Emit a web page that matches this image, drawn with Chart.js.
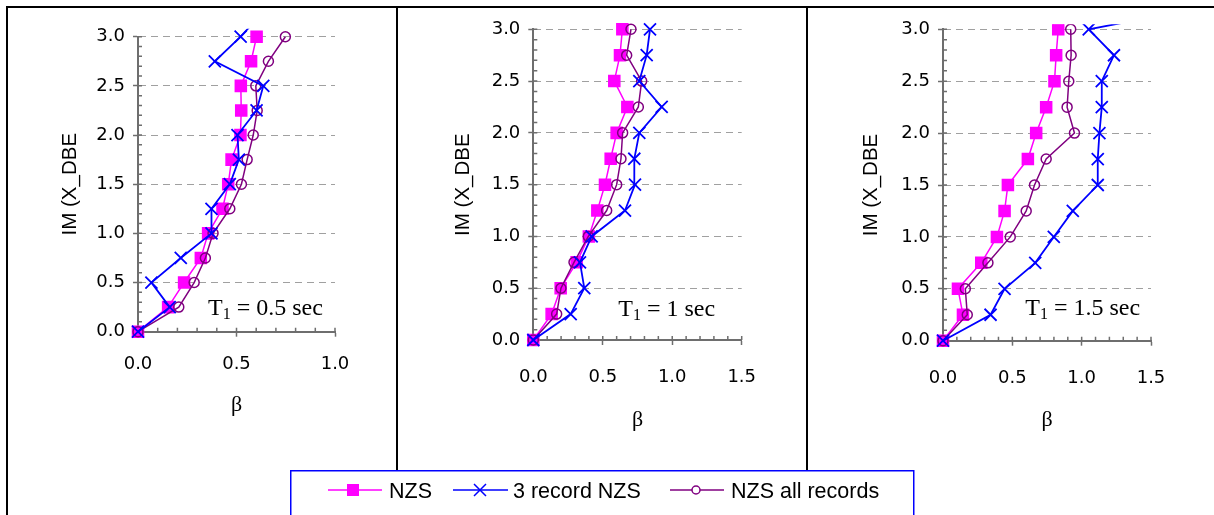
<!DOCTYPE html>
<html lang="en">
<head>
  <meta charset="UTF-8" />
  <title>IM vs beta - NZS records</title>
  <script src="https://cdn.jsdelivr.net/npm/chart.js"></script>
  <style>
    body {
      margin: 0;
      background: #fff;
      width: 1214px;
      height: 515px;
      overflow: hidden;
      position: relative;
    }
    .rule { position: absolute; background: #000; }
    canvas { position: absolute; }
    #legend { position: absolute; left: 0; top: 0; pointer-events: none; }
  </style>
</head>
<body>

<!-- frame -->
<div class="rule" style="left:6px;top:6px;width:1208px;height:2px"></div>
<div class="rule" style="left:6px;top:6px;width:2px;height:509px"></div>
<div class="rule" style="left:396px;top:6px;width:2px;height:464px"></div>
<div class="rule" style="left:806px;top:6px;width:2px;height:464px"></div>

<canvas id="p1" width="385" height="431" style="left:10px;top:9px"></canvas>
<canvas id="p2" width="388" height="431" style="left:410px;top:9px"></canvas>
<canvas id="p3" width="390" height="431" style="left:820px;top:9px"></canvas>

<svg id="legend" width="1214" height="515" font-family="'Liberation Sans', Arial, sans-serif" font-size="21.5">
  <rect x="290.75" y="470.75" width="623" height="60" fill="none" stroke="#0000ff" stroke-width="1.5"/>
  <line x1="328" y1="490" x2="382" y2="490" stroke="#ff00ff" stroke-width="1.5"/>
  <rect x="347" y="484" width="12" height="12" fill="#ff00ff"/>
  <text x="389" y="498.3" id="lg0"></text>
  <line x1="453" y1="490" x2="508" y2="490" stroke="#0000ff" stroke-width="1.5"/>
  <path d="M474 484 L486 496 M474 496 L486 484" stroke="#0000ff" stroke-width="1.5"/>
  <text x="513" y="498.3" id="lg1"></text>
  <line x1="670" y1="490" x2="724" y2="490" stroke="#800080" stroke-width="1.5"/>
  <circle cx="696" cy="490" r="4" fill="#fff" stroke="#800080" stroke-width="1.5"/>
  <text x="731" y="498.3" id="lg2"></text>
</svg>

<script>
  // IM levels (x DBE), shared by every series; the last one only in the 3-record runs
  const imLevels = [0, 0.25, 0.5, 0.75, 1.0, 1.25, 1.5, 1.75, 2.0, 2.25, 2.5, 2.75, 3.0, 3.25];
  const seriesNames = ['NZS', '3 record NZS', 'NZS all records'];
  const periods = ['0.5', '1', '1.5'];
  const yTicks = [0, 0.5, 1.0, 1.5, 2.0, 2.5, 3.0];
  const xTicksShort = [0, 0.5, 1.0];
  const xTicksLong = [0, 0.5, 1.0, 1.5];

  // beta values, T1 = 0.5 sec
  const nzs05 = [0, 0.153, 0.234, 0.319, 0.356, 0.429, 0.458, 0.475, 0.52, 0.524, 0.522, 0.574, 0.602];
  const rec05 = [0, 0.161, 0.068, 0.217, 0.373, 0.373, 0.466, 0.512, 0.505, 0.602, 0.636, 0.39, 0.521, 0.635];
  const all05 = [0, 0.207, 0.285, 0.342, 0.381, 0.466, 0.525, 0.554, 0.585, 0.605, 0.598, 0.662, 0.748];

  // beta values, T1 = 1 sec
  const nzs10 = [0, 0.132, 0.197, 0.312, 0.40, 0.461, 0.516, 0.557, 0.60, 0.677, 0.583, 0.624, 0.641];
  const rec10 = [0, 0.269, 0.367, 0.336, 0.42, 0.66, 0.732, 0.727, 0.763, 0.924, 0.763, 0.816, 0.84];
  const all10 = [0, 0.168, 0.199, 0.293, 0.396, 0.528, 0.60, 0.631, 0.643, 0.756, 0.78, 0.672, 0.703];

  // beta values, T1 = 1.5 sec
  const nzs15 = [0, 0.144, 0.108, 0.276, 0.389, 0.444, 0.468, 0.612, 0.672, 0.744, 0.804, 0.816, 0.831];
  const rec15 = [0, 0.343, 0.444, 0.665, 0.799, 0.936, 1.116, 1.116, 1.128, 1.145, 1.145, 1.233, 1.051, 2.03];
  const all15 = [0, 0.175, 0.161, 0.324, 0.485, 0.60, 0.66, 0.744, 0.948, 0.895, 0.907, 0.924, 0.921];

  const SANS = "'Liberation Sans', Arial, sans-serif";
  const WIDE = "'DejaVu Sans', Verdana, sans-serif";
  const SERIF = "'Liberation Serif', 'Times New Roman', serif";
  const axisColor = '#6e6e6e';

  seriesNames.forEach((n, i) => { document.getElementById('lg' + i).textContent = n; });

  const panels = [
    { id: 'p1', period: periods[0], data: [nzs05, rec05, all05], xTicks: xTicksShort,
      canvas: { left: 10, top: 9, w: 385, h: 431 },
      area: { left: 138, right: 335, top: 36.7, bottom: 331.7 },
      yTitleX: 70, xTitleY: 405, xLabelPad: 16.5, note: { x: 208, y: 315 }, clipTop: 8 },
    { id: 'p2', period: periods[1], data: [nzs10, rec10, all10], xTicks: xTicksLong,
      canvas: { left: 410, top: 9, w: 388, h: 431 },
      area: { left: 533.3, right: 741.7, top: 29.3, bottom: 340 },
      yTitleX: 463.3, xTitleY: 420.7, xLabelPad: 21.5, note: { x: 618.3, y: 316 }, clipTop: 8 },
    { id: 'p3', period: periods[2], data: [nzs15, rec15, all15], xTicks: xTicksLong,
      canvas: { left: 820, top: 9, w: 390, h: 431 },
      area: { left: 943, right: 1151, top: 29.3, bottom: 340.7 },
      yTitleX: 871.3, xTitleY: 420.7, xLabelPad: 21.5, note: { x: 1025.3, y: 315 }, clipTop: 5 }
  ];

  const toPoints = vals => vals.map((b, i) => ({ x: b, y: imLevels[i] }));

  // small inward ticks every 0.1 on both axes
  const minorTicks = {
    id: 'minorTicks',
    beforeDatasetsDraw(chart) {
      const { ctx, scales: { x, y } } = chart;
      ctx.save();
      ctx.strokeStyle = axisColor;
      ctx.lineWidth = 1.5;
      ctx.beginPath();
      for (let i = 0; i <= Math.round(x.max * 10); i++) {
        const px = x.getPixelForValue(i / 10);
        ctx.moveTo(px, y.bottom);
        ctx.lineTo(px, y.bottom - 4);
      }
      for (let i = 0; i <= Math.round(y.max * 10); i++) {
        const py = y.getPixelForValue(i / 10);
        ctx.moveTo(x.left, py);
        ctx.lineTo(x.left + 4, py);
      }
      ctx.stroke();
      ctx.restore();
    }
  };

  // "T1 = ... sec" text box
  const periodNote = {
    id: 'periodNote',
    afterDatasetsDraw(chart, args, opts) {
      const { ctx } = chart;
      let x = opts.x, y = opts.y;
      ctx.save();
      ctx.fillStyle = '#000';
      ctx.textBaseline = 'alphabetic';
      ctx.font = '24px ' + SERIF;
      ctx.fillText('T', x, y);
      x += ctx.measureText('T').width;
      ctx.font = '16px ' + SERIF;
      ctx.fillText('1', x, y + 4);
      x += ctx.measureText('1').width;
      ctx.font = '24px ' + SERIF;
      ctx.fillText(' = ' + opts.period + ' sec', x, y);
      ctx.restore();
    }
  };

  panels.forEach(p => {
    const c = p.canvas, a = p.area;
    const yAxisW = a.left - c.left;
    const xAxisH = c.top + c.h - a.bottom;
    const clip = { left: 10, right: 10, bottom: 10, top: p.clipTop };

    const styles = [
      { color: '#ff00ff', pointStyle: 'rect', radius: 7.8, bg: '#ff00ff', bw: 1.5, order: 3 },
      { color: '#0000ff', pointStyle: 'crossRot', radius: 8.5, bg: '#0000ff', bw: 1.8, order: 1 },
      { color: '#800080', pointStyle: 'circle', radius: 5, bg: 'rgba(0,0,0,0)', bw: 1.5, order: 2 }
    ];

    new Chart(document.getElementById(p.id), {
      type: 'scatter',
      data: {
        datasets: p.data.map((vals, i) => ({
          label: seriesNames[i],
          data: toPoints(vals),
          showLine: true,
          borderColor: styles[i].color,
          backgroundColor: styles[i].bg,
          borderWidth: styles[i].bw,
          pointStyle: styles[i].pointStyle,
          pointRadius: styles[i].radius,
          pointBorderWidth: styles[i].bw,
          pointBorderColor: styles[i].color,
          pointBackgroundColor: styles[i].bg,
          order: styles[i].order,
          clip: clip
        }))
      },
      options: {
        responsive: false,
        animation: false,
        events: [],
        layout: { padding: { top: a.top - c.top, right: c.left + c.w - a.right, left: 0, bottom: 0 } },
        plugins: {
          legend: { display: false },
          tooltip: { enabled: false },
          periodNote: { x: p.note.x - c.left, y: p.note.y - c.top, period: p.period }
        },
        scales: {
          x: {
            type: 'linear',
            min: 0,
            max: p.xTicks[p.xTicks.length - 1],
            afterBuildTicks: s => { s.ticks = p.xTicks.map(v => ({ value: v })); },
            afterFit: s => { s.height = xAxisH; },
            ticks: {
              color: '#000',
              font: { family: WIDE, size: 18 },
              padding: p.xLabelPad,
              maxRotation: 0,
              callback: v => v.toFixed(1)
            },
            grid: { drawOnChartArea: false, tickLength: 5, tickColor: axisColor, tickWidth: 1.5 },
            border: { color: axisColor, width: 2 },
            title: {
              display: true,
              text: 'β',
              color: '#000',
              font: { family: SERIF, size: 22 },
              padding: { top: 0, bottom: c.top + c.h - p.xTitleY - 13.2 }
            }
          },
          y: {
            type: 'linear',
            min: 0,
            max: 3,
            afterBuildTicks: s => { s.ticks = yTicks.map(v => ({ value: v })); },
            afterFit: s => { s.width = yAxisW; },
            ticks: {
              color: '#000',
              font: { family: WIDE, size: 18 },
              padding: 8,
              callback: v => v.toFixed(1)
            },
            grid: {
              color: ctx => (ctx.tick && ctx.tick.value === 0) ? 'rgba(0,0,0,0)' : '#a0a0a0',
              lineWidth: 1,
              tickLength: 5,
              tickColor: axisColor,
              tickWidth: 1.5
            },
            border: { color: axisColor, width: 2, dash: [7, 5] },
            title: {
              display: true,
              text: 'IM (X_DBE',
              color: '#000',
              font: { family: SANS, size: 20.5 },
              padding: { top: p.yTitleX - c.left - 12.3, bottom: 0 }
            }
          }
        }
      },
      plugins: [minorTicks, periodNote]
    });
  });
</script>
</body>
</html>
